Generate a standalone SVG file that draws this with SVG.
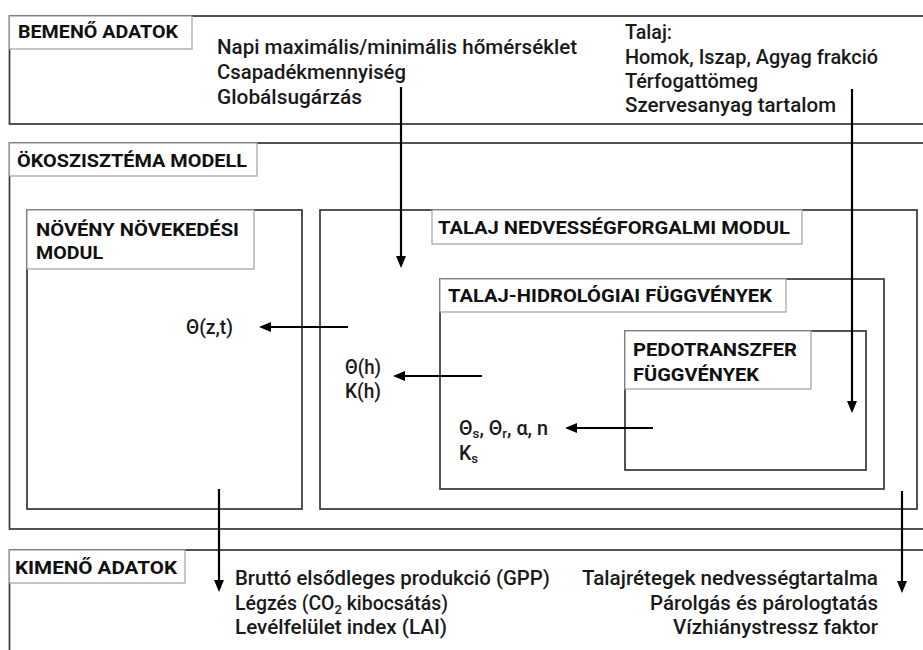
<svg xmlns="http://www.w3.org/2000/svg" width="923" height="650" viewBox="0 0 923 650">
  <style>
    .box { fill: none; stroke: #363636; stroke-width: 1.7; }
    .tag { fill: #ffffff; stroke: #a0a0a0; stroke-width: 1.2; }
    .title { font-family: "Roboto", "Liberation Sans", sans-serif; font-weight: 700; font-size: 18.5px; fill: #111111; }
    .txt { font-family: "Roboto", "Liberation Sans", sans-serif; font-weight: 500; font-size: 19.5px; fill: #1a1a1a; }
    .sub { font-size: 13px; }
    .flow { fill: none; stroke: #000000; stroke-width: 2.2; marker-end: url(#head); }
  </style>
  <defs>
    <marker id="head" viewBox="0 0 12 10" markerWidth="12" markerHeight="10" refX="4" refY="5" orient="auto" markerUnits="userSpaceOnUse">
      <path d="M0,0 L12,5 L0,10 Z" fill="#000000"/>
    </marker>
  </defs>
  <rect width="923" height="650" fill="#ffffff"/>

  <!-- input data -->
  <g id="input-data">
    <rect class="box" x="9.5" y="16" width="930" height="108"/>
    <rect class="tag" x="9.5" y="16" width="182.5" height="33"/>
    <text class="title" x="18" y="37.5" textLength="160" lengthAdjust="spacingAndGlyphs">BEMENŐ ADATOK</text>
    <text class="txt" x="217" y="54" textLength="360" lengthAdjust="spacingAndGlyphs">Napi maximális/minimális hőmérséklet</text>
    <text class="txt" x="217" y="79" textLength="189" lengthAdjust="spacingAndGlyphs">Csapadékmennyiség</text>
    <text class="txt" x="217" y="104" textLength="145" lengthAdjust="spacingAndGlyphs">Globálsugárzás</text>
    <text class="txt" x="625" y="39" textLength="47" lengthAdjust="spacingAndGlyphs">Talaj:</text>
    <text class="txt" x="625" y="64" textLength="253" lengthAdjust="spacingAndGlyphs">Homok, Iszap, Agyag frakció</text>
    <text class="txt" x="625" y="88" textLength="133" lengthAdjust="spacingAndGlyphs">Térfogattömeg</text>
    <text class="txt" x="625" y="112" textLength="211" lengthAdjust="spacingAndGlyphs">Szervesanyag tartalom</text>
  </g>

  <!-- ecosystem model frame -->
  <g id="ecosystem-model">
    <rect class="box" x="9.5" y="143" width="930" height="386"/>
    <rect class="tag" x="9.5" y="143" width="247.5" height="33"/>
    <text class="title" x="17" y="167" textLength="230" lengthAdjust="spacingAndGlyphs">ÖKOSZISZTÉMA MODELL</text>
  </g>

  <!-- plant growth module -->
  <g id="plant-growth-module">
    <rect class="box" x="27" y="210" width="275" height="299"/>
    <rect class="tag" x="27" y="210" width="227" height="59"/>
    <text class="title" x="36" y="236" textLength="203" lengthAdjust="spacingAndGlyphs">NÖVÉNY NÖVEKEDÉSI</text>
    <text class="title" x="36" y="259" textLength="67" lengthAdjust="spacingAndGlyphs">MODUL</text>
  </g>

  <!-- soil moisture module -->
  <g id="soil-moisture-module">
    <rect class="box" x="320" y="210" width="597" height="299"/>
    <rect class="tag" x="432" y="210" width="370" height="34"/>
    <text class="title" x="438" y="234" textLength="352" lengthAdjust="spacingAndGlyphs">TALAJ NEDVESSÉGFORGALMI MODUL</text>
  </g>

  <!-- soil hydraulic functions -->
  <g id="soil-hydraulic-functions">
    <rect class="box" x="440" y="279" width="444" height="210"/>
    <rect class="tag" x="440" y="279" width="346" height="33"/>
    <text class="title" x="448" y="302" textLength="324" lengthAdjust="spacingAndGlyphs">TALAJ-HIDROLÓGIAI FÜGGVÉNYEK</text>
  </g>

  <!-- pedotransfer functions -->
  <g id="pedotransfer-functions">
    <rect class="box" x="625" y="331" width="241" height="139"/>
    <rect class="tag" x="625" y="331" width="186" height="58"/>
    <text class="title" x="633" y="356" textLength="164" lengthAdjust="spacingAndGlyphs">PEDOTRANSZFER</text>
    <text class="title" x="633" y="381" textLength="126" lengthAdjust="spacingAndGlyphs">FÜGGVÉNYEK</text>
  </g>

  <!-- output data -->
  <g id="output-data">
    <rect class="box" x="9.5" y="550" width="930" height="120"/>
    <rect class="tag" x="9.5" y="550" width="175.5" height="33"/>
    <text class="title" x="15" y="573.5" textLength="162" lengthAdjust="spacingAndGlyphs">KIMENŐ ADATOK</text>
    <text class="txt" x="235" y="585" textLength="315" lengthAdjust="spacingAndGlyphs">Bruttó elsődleges produkció (GPP)</text>
    <text class="txt" x="235" y="610" textLength="213" lengthAdjust="spacingAndGlyphs">Légzés (CO<tspan class="sub" dy="4">2</tspan><tspan dy="-4"> kibocsátás)</tspan></text>
    <text class="txt" x="235" y="634" textLength="212" lengthAdjust="spacingAndGlyphs">Levélfelület index (LAI)</text>
    <text class="txt" x="878" y="585" text-anchor="end" textLength="296" lengthAdjust="spacingAndGlyphs">Talajrétegek nedvességtartalma</text>
    <text class="txt" x="878" y="610" text-anchor="end" textLength="228" lengthAdjust="spacingAndGlyphs">Párolgás és párologtatás</text>
    <text class="txt" x="878" y="634" text-anchor="end" textLength="205" lengthAdjust="spacingAndGlyphs">Vízhiánystressz faktor</text>
  </g>

  <!-- data flows between the modules -->
  <g id="connectors">
    <line class="flow" x1="401" y1="87" x2="401" y2="260"/>
    <line class="flow" x1="852" y1="89" x2="852" y2="405"/>
    <line class="flow" x1="348" y1="327" x2="267" y2="327"/>
    <line class="flow" x1="482" y1="376" x2="401" y2="376"/>
    <line class="flow" x1="653" y1="428" x2="573" y2="428"/>
    <line class="flow" x1="219" y1="489" x2="219" y2="584"/>
    <line class="flow" x1="902" y1="491" x2="902" y2="585"/>
  </g>

  <!-- values passed along the flows -->
  <g id="flow-labels">
    <text class="txt" x="186" y="334" textLength="47" lengthAdjust="spacingAndGlyphs">Θ(z,t)</text>
    <text class="txt" x="345" y="374" textLength="36" lengthAdjust="spacingAndGlyphs">Θ(h)</text>
    <text class="txt" x="345" y="398" textLength="36" lengthAdjust="spacingAndGlyphs">K(h)</text>
    <text class="txt" x="459" y="435" textLength="89" lengthAdjust="spacingAndGlyphs">Θ<tspan class="sub" dy="3">s</tspan><tspan dy="-3">, Θ</tspan><tspan class="sub" dy="3">r</tspan><tspan dy="-3">, α, n</tspan></text>
    <text class="txt" x="459" y="460">K<tspan class="sub" dy="3">s</tspan></text>
  </g>
</svg>
